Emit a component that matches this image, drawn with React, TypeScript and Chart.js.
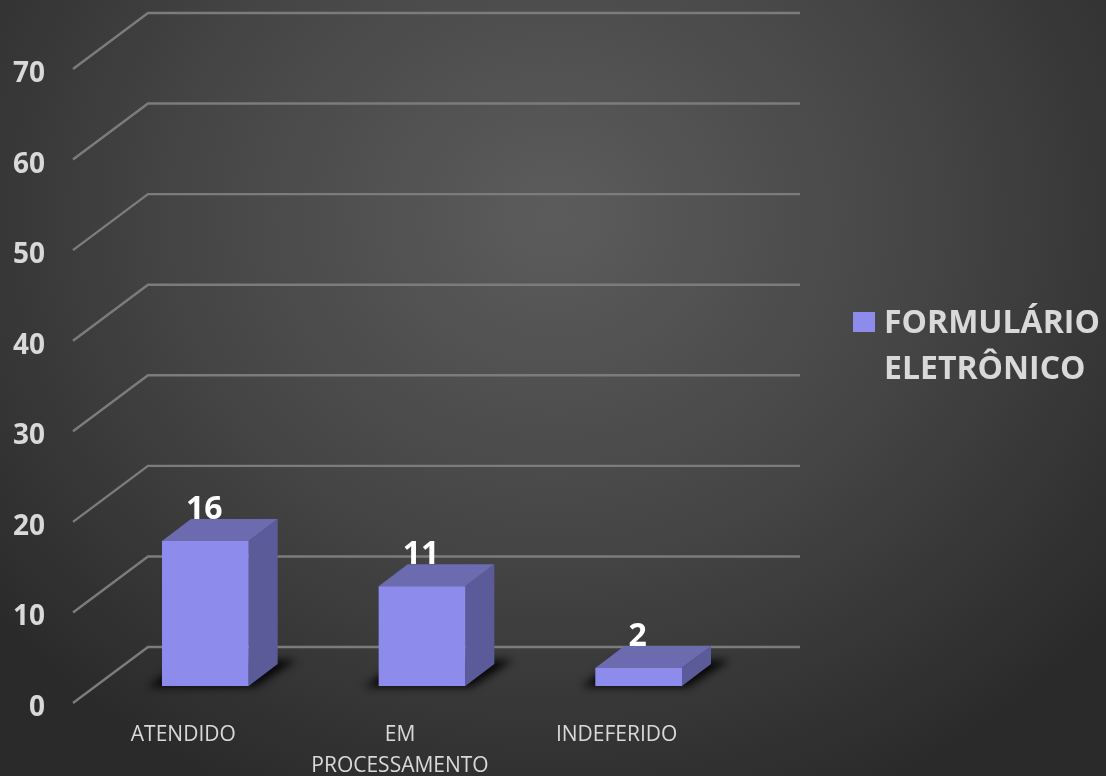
import React, { useEffect, useRef } from "react";
import { Chart, registerables } from "chart.js";

Chart.register(...registerables);

const categories: (string | string[])[] = ["ATENDIDO", ["EM", "PROCESSAMENTO"], "INDEFERIDO"];
const seriesName = ["FORMULÁRIO", "ELETRÔNICO"];
const seriesValues = [16, 11, 2];

const FONT = '"Open Sans", sans-serif';
const FRONT_Y = -5;
const WALL = { dx: 75, dy: -56, right: 800 };
const BAR_SHIFT = { x: 22, y: -22 };
const DEPTH = { x: 29, y: -22 };
const FRONT = "#8d8cec";
const TOP = "#6c6bb0";
const SIDE = "#5c5b9a";

const poly = (ctx: CanvasRenderingContext2D, pts: number[][], fill: string) => {
  ctx.beginPath();
  pts.forEach((p, i) => (i ? ctx.lineTo(p[0], p[1]) : ctx.moveTo(p[0], p[1])));
  ctx.closePath();
  ctx.fillStyle = fill;
  ctx.fill();
};

const scene3d = {
  id: "scene3d",
  beforeDatasetsDraw(chart: any) {
    const { ctx, chartArea, scales } = chart;
    ctx.save();
    ctx.strokeStyle = "#7c7c7c";
    ctx.lineWidth = 2.4;
    ctx.lineJoin = "miter";
    scales.y.ticks.forEach((t: any) => {
      const y = scales.y.getPixelForValue(t.value) + FRONT_Y;
      ctx.beginPath();
      ctx.moveTo(chartArea.left - 2, y);
      ctx.lineTo(chartArea.left + WALL.dx - 2, y + WALL.dy);
      ctx.lineTo(WALL.right, y + WALL.dy);
      ctx.stroke();
    });
    ctx.restore();
  },
  beforeDatasetDraw(chart: any) {
    const { ctx } = chart;
    const meta = chart.getDatasetMeta(0);
    ctx.save();
    ctx.translate(BAR_SHIFT.x, BAR_SHIFT.y);
    // floor shadows
    ctx.save();
    ctx.filter = "blur(4px)";
    meta.data.forEach((bar: any) => {
      const l = bar.x - bar.width / 2;
      const r = bar.x + bar.width / 2;
      poly(ctx, [[l - 14, bar.base + 1], [r + 6, bar.base + 1], [r + 48, bar.base - 26], [l + 22, bar.base - 26]], "rgba(0,0,0,0.9)");
    });
    ctx.restore();
    // side and top faces
    meta.data.forEach((bar: any) => {
      const l = bar.x - bar.width / 2;
      const r = bar.x + bar.width / 2;
      poly(ctx, [[r, bar.y], [r + DEPTH.x, bar.y + DEPTH.y], [r + DEPTH.x, bar.base + DEPTH.y], [r, bar.base]], SIDE);
      poly(ctx, [[l, bar.y], [l + DEPTH.x, bar.y + DEPTH.y], [r + DEPTH.x, bar.y + DEPTH.y], [r, bar.y]], TOP);
    });
  },
  afterDatasetDraw(chart: any) {
    chart.ctx.restore();
  },
  afterDatasetsDraw(chart: any) {
    const { ctx, data } = chart;
    const meta = chart.getDatasetMeta(0);
    ctx.save();
    ctx.fillStyle = "#ffffff";
    ctx.font = `700 32px ${FONT}`;
    ctx.textAlign = "center";
    ctx.textBaseline = "middle";
    meta.data.forEach((bar: any, i: number) => {
      ctx.fillText(String(data.datasets[0].data[i]), bar.x + BAR_SHIFT.x - 1, bar.y + BAR_SHIFT.y - 31);
    });
    // legend
    ctx.fillStyle = FRONT;
    ctx.fillRect(853, 312, 22, 20);
    ctx.fillStyle = "#d9d9d9";
    ctx.font = `700 32px ${FONT}`;
    ctx.textAlign = "left";
    seriesName.forEach((line, i) => ctx.fillText(line, 884, 324 + i * 46));
    ctx.restore();
  },
};

export default function App() {
  const ref = useRef<HTMLCanvasElement>(null);
  useEffect(() => {
    const chart = new Chart(ref.current!, {
      type: "bar",
      data: {
        labels: categories as any,
        datasets: [
          {
            label: seriesName.join(" "),
            data: seriesValues,
            backgroundColor: FRONT,
            borderWidth: 0,
            categoryPercentage: 0.4,
            barPercentage: 1,
            clip: false as any,
          },
        ],
      },
      options: {
        responsive: false,
        animation: false,
        devicePixelRatio: 1,
        layout: { padding: { top: 74, right: 381, left: 0, bottom: 0 } },
        plugins: { legend: { display: false }, tooltip: { enabled: false }, title: { display: false } },
        scales: {
          x: {
            grid: { display: false },
            border: { display: false },
            afterFit: (s: any) => { s.height = 68; },
            ticks: {
              color: "#d9d9d9",
              padding: 4,
              maxRotation: 0,
              autoSkip: false,
              font: { family: FONT, size: 21, lineHeight: 1.45 },
            },
          },
          y: {
            min: 0,
            max: 70,
            grid: { display: false },
            border: { display: false },
            afterFit: (s: any) => { s.width = 75; },
            ticks: {
              stepSize: 10,
              color: "#d9d9d9",
              padding: 22,
              font: { family: FONT, size: 28, weight: "bold" as any },
            },
          },
        },
      },
      plugins: [scene3d],
    });
    return () => chart.destroy();
  }, []);
  return (
    <div
      style={{
        position: "absolute",
        left: 0,
        top: 0,
        width: 1106,
        height: 776,
        background: "radial-gradient(ellipse 720px 640px at 50% 28%, #5c5c5c 0%, #464646 50%, #2a2a2a 100%)",
      }}
    >
      <canvas ref={ref} width={1106} height={776} style={{ display: "block" }} />
    </div>
  );
}
